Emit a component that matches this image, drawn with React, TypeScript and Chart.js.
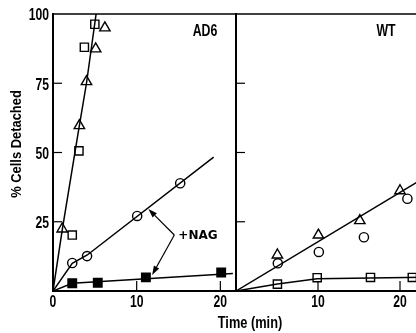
import React, { useEffect, useRef } from 'react';
import { Chart, registerables } from 'chart.js';
Chart.register(...registerables);

// ---- AD6 panel ----
const ad6TriX = [1.1, 3.15, 4.0, 5.1, 6.2];
const ad6TriY = [22.4, 59.7, 75.6, 87.4, 95.0];
const ad6SqX = [2.3, 3.1, 3.75, 5.0];
const ad6SqY = [20.2, 50.6, 88.0, 96.3];
const ad6FastFitX = [0, 1.1, 3.0, 4.0, 5.15];
const ad6FastFitY = [0, 22, 57, 75, 100];
const ad6CircX = [2.3, 4.07, 10.06, 15.2];
const ad6CircY = [10.1, 12.6, 27.1, 38.9];
const ad6CircFitX = [0, 2.3, 4.1, 19.2];
const ad6CircFitY = [0, 10, 13, 48.3];
const ad6NagX = [2.3, 5.35, 11.1, 20.1];
const ad6NagY = [2.8, 3.0, 4.9, 6.7];
const ad6NagFitX = [0, 2.3, 21.5];
const ad6NagFitY = [0, 2.8, 6.3];
const nagArrowFromX = 14.5;
const nagArrowFromY = 20.2;
const nagArrowTipX = [11.4, 11.85];
const nagArrowTipY = [29.6, 5.8];

// ---- WT panel ----
const wtTriX = [5.05, 10.05, 15.1, 20.0];
const wtTriY = [13.0, 20.2, 25.4, 36.2];
const wtCircX = [5.1, 10.1, 15.6, 20.9];
const wtCircY = [10.0, 14.1, 19.4, 33.3];
const wtFitX = [0, 23];
const wtFitY = [0, 40.9];
const wtSqX = [5.05, 9.9, 16.4, 21.5];
const wtSqY = [2.5, 4.8, 4.9, 4.9];
const wtSqFitX = [0, 5.05, 9.9, 16.4, 23];
const wtSqFitY = [0, 2.5, 4.4, 4.7, 5.0];

const yInnerTicks = [25, 50, 75];
const xInnerTicks = [10, 20];

const FONT = "'Liberation Sans', Arial, sans-serif";
const SQUEEZE = 0.76;

const zip = (xs: number[], ys: number[]) => xs.map((x, i) => ({ x, y: ys[i] }));

const fitLine = (xs: number[], ys: number[]) => ({
  data: zip(xs, ys),
  showLine: true,
  borderColor: '#000',
  borderWidth: 1.5,
  pointRadius: 0,
  tension: 0,
  clip: 0,
});

const marks = (xs: number[], ys: number[], style: string, r: number, fill: string) => ({
  data: zip(xs, ys),
  showLine: false,
  pointStyle: style,
  pointRadius: r,
  pointBackgroundColor: fill,
  pointBorderColor: '#000',
  pointBorderWidth: 1.4,
  clip: 0,
});

function condensed(ctx: CanvasRenderingContext2D, text: string, x: number, y: number, size: number, sq: number, align: CanvasTextAlign) {
  ctx.save();
  ctx.translate(x, y);
  ctx.scale(sq, 1);
  ctx.font = `bold ${size}px ${FONT}`;
  ctx.textAlign = align;
  ctx.textBaseline = 'middle';
  ctx.fillText(text, 0, 0);
  ctx.restore();
}

function framePlugin(opts: { left: boolean; label: string; labelX: number; arrows: boolean; yTitle: boolean }) {
  return {
    id: 'frame',
    afterDraw(chart: any) {
      const { ctx, chartArea } = chart;
      const { left, right, top, bottom } = chartArea;
      const xs = chart.scales.x;
      const ys = chart.scales.y;
      ctx.save();
      ctx.strokeStyle = '#000';
      ctx.fillStyle = '#000';
      ctx.lineWidth = 1.5;
      ctx.beginPath();
      ctx.moveTo(left, top);
      ctx.lineTo(right + 2, top);
      ctx.stroke();
      ctx.lineWidth = 2;
      ctx.beginPath();
      ctx.moveTo(left - 1, bottom);
      ctx.lineTo(right + 2, bottom);
      ctx.stroke();
      ctx.lineWidth = 2;
      ctx.beginPath();
      ctx.moveTo(left, top - 1);
      ctx.lineTo(left, bottom + 1);
      ctx.stroke();
      ctx.lineWidth = 1.2;
      yInnerTicks.forEach((v) => {
        const py = ys.getPixelForValue(v);
        ctx.beginPath();
        ctx.moveTo(left, py);
        ctx.lineTo(left + 9, py);
        ctx.stroke();
      });
      xInnerTicks.forEach((v) => {
        const px = xs.getPixelForValue(v);
        ctx.beginPath();
        ctx.moveTo(px, bottom);
        ctx.lineTo(px, bottom - 10);
        ctx.stroke();
      });
      xs.ticks.forEach((t: any) => {
        if (!opts.left && t.value === 0) return;
        condensed(ctx, String(t.value), xs.getPixelForValue(t.value), bottom + 12, 16, SQUEEZE, 'center');
      });
      if (opts.left) {
        ys.ticks.forEach((t: any) => {
          if (t.value === 0) return;
          condensed(ctx, String(t.value), left - 4, ys.getPixelForValue(t.value) + 2, 16, SQUEEZE, 'right');
        });
      }
      condensed(ctx, opts.label, opts.labelX, 32, 16, 0.77, 'center');
      if (opts.yTitle) {
        ctx.save();
        ctx.translate(17, 144);
        ctx.rotate(-Math.PI / 2);
        condensed(ctx, '% Cells Detached', 0, 0, 15, 0.86, 'center');
        ctx.restore();
      }
      if (opts.arrows) {
        const fx = xs.getPixelForValue(nagArrowFromX);
        const fy = ys.getPixelForValue(nagArrowFromY);
        nagArrowTipX.forEach((tx0, i) => {
          const tx = xs.getPixelForValue(tx0);
          const ty = ys.getPixelForValue(nagArrowTipY[i]);
          const ang = Math.atan2(ty - fy, tx - fx);
          const len = 9;
          const bx = tx - Math.cos(ang) * len;
          const by = ty - Math.sin(ang) * len;
          ctx.lineWidth = 1.2;
          ctx.beginPath();
          ctx.moveTo(fx, fy);
          ctx.lineTo(bx, by);
          ctx.stroke();
          ctx.beginPath();
          ctx.moveTo(tx, ty);
          ctx.lineTo(bx + Math.sin(ang) * 3, by - Math.cos(ang) * 3);
          ctx.lineTo(bx - Math.sin(ang) * 3, by + Math.cos(ang) * 3);
          ctx.closePath();
          ctx.fill();
        });
        ctx.font = "bold 12px 'DejaVu Sans', sans-serif";
        ctx.textAlign = 'left';
        ctx.textBaseline = 'middle';
        ctx.fillText('+NAG', fx + 4, fy + 1);
      }
      ctx.restore();
    },
  };
}

function baseOptions(xMax: number, isLeft: boolean, padLeft: number) {
  return {
    animation: false,
    responsive: false,
    maintainAspectRatio: false,
    layout: { autoPadding: false, padding: { top: 14, left: padLeft, right: isLeft ? 1 : 0, bottom: 0 } },
    plugins: { legend: { display: false }, tooltip: { enabled: false } },
    scales: {
      x: {
        type: 'linear',
        min: 0,
        max: xMax,
        grid: { display: false, drawTicks: false },
        border: { display: false },
        ticks: { display: false, stepSize: 10, includeBounds: false },
        afterFit: (s: any) => {
          s.height = 42;
          s.paddingLeft = 0;
          s.paddingRight = 0;
        },
      },
      y: {
        type: 'linear',
        display: isLeft,
        min: 0,
        max: 100,
        grid: { display: false, drawTicks: false },
        border: { display: false },
        ticks: { display: false, stepSize: 25 },
        afterFit: (s: any) => {
          s.width = isLeft ? 53 : 0;
          s.paddingTop = 0;
          s.paddingBottom = 0;
        },
      },
    },
  };
}

function Panel(props: { which: 'ad6' | 'wt' }) {
  const ref = useRef<HTMLCanvasElement | null>(null);
  useEffect(() => {
    if (!ref.current) return;
    let chart: Chart;
    if (props.which === 'ad6') {
      chart = new Chart(ref.current, {
        type: 'scatter',
        data: {
          datasets: [
            fitLine(ad6FastFitX, ad6FastFitY),
            fitLine(ad6CircFitX, ad6CircFitY),
            fitLine(ad6NagFitX, ad6NagFitY),
            marks(ad6TriX, ad6TriY, 'triangle', 6, '#fff'),
            marks(ad6SqX, ad6SqY, 'rect', 5.8, '#fff'),
            marks(ad6CircX, ad6CircY, 'circle', 4.6, '#fff'),
            marks(ad6NagX, ad6NagY, 'rect', 6, '#000'),
          ] as any,
        },
        options: baseOptions(21.75, true, 0) as any,
        plugins: [framePlugin({ left: true, label: 'AD6', labelX: 205, arrows: true, yTitle: true })],
      });
    } else {
      chart = new Chart(ref.current, {
        type: 'scatter',
        data: {
          datasets: [
            fitLine(wtFitX, wtFitY),
            fitLine(wtSqFitX, wtSqFitY),
            marks(wtTriX, wtTriY, 'triangle', 6, '#fff'),
            marks(wtCircX, wtCircY, 'circle', 4.6, '#fff'),
            marks(wtSqX, wtSqY, 'rect', 5.8, '#fff'),
          ] as any,
        },
        options: baseOptions(23.17, false, 10) as any,
        plugins: [framePlugin({ left: false, label: 'WT', labelX: 160, arrows: false, yTitle: false })],
      });
    }
    return () => chart.destroy();
  }, [props.which]);
  return <canvas ref={ref} width={props.which === 'ad6' ? 236 : 200} height={333} style={{ display: 'block' }} />;
}

export default function App() {
  return (
    <div style={{ position: 'absolute', left: 0, top: 0, width: 416, height: 333, overflow: 'hidden', background: '#fff' }}>
      <div style={{ position: 'absolute', left: 0, top: 0 }}>
        <Panel which="ad6" />
      </div>
      <div style={{ position: 'absolute', left: 226, top: 0 }}>
        <Panel which="wt" />
      </div>
      <div
        style={{
          position: 'absolute',
          left: 200,
          top: 314,
          width: 100,
          textAlign: 'center',
          font: `bold 16px ${FONT}`,
          color: '#000',
          lineHeight: '18px',
          transform: 'scaleX(0.8)',
        }}
      >
        Time (min)
      </div>
    </div>
  );
}
